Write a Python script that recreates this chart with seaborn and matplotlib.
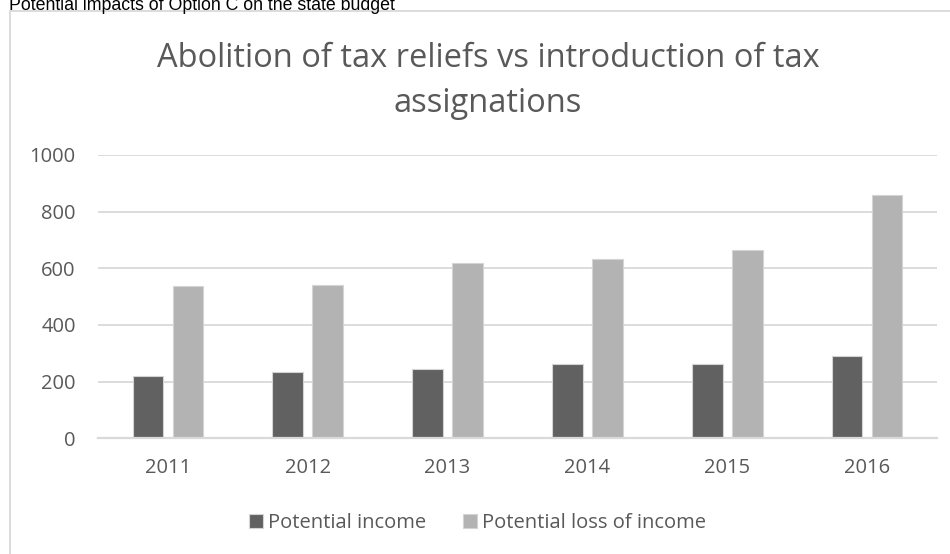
import matplotlib
matplotlib.use('Agg')
import matplotlib.pyplot as plt
import seaborn as sns
import pandas as pd
from matplotlib.patches import Rectangle

years = ['2011', '2012', '2013', '2014', '2015', '2016']
potential_income = [219, 233, 245, 261, 262, 290]
potential_loss = [537, 540, 618, 632, 664, 858]
series_names = ['Potential income', 'Potential loss of income']
title_line1 = 'Abolition of tax reliefs vs introduction of tax'
title_line2 = 'assignations'
header_text = 'Potential impacts of Option C on the state budget'
yticks = [0, 200, 400, 600, 800, 1000]

df = pd.DataFrame({
    'Year': years * 2,
    'Value': potential_income + potential_loss,
    'Series': [series_names[0]] * len(years) + [series_names[1]] * len(years),
})

sns.set_theme(style='white')
plt.rcParams['font.family'] = ['Open Sans', 'DejaVu Sans']

W, H = 950, 554
TXT = '#595959'
GRID = '#d9d9d9'
fig = plt.figure(figsize=(W / 100, H / 100), dpi=100)
fig.patch.set_facecolor('white')

ax = fig.add_axes([98 / W, (H - 438.3) / H, 839 / W, 283.3 / H])
sns.barplot(data=df, x='Year', y='Value', hue='Series', hue_order=series_names,
            palette=['#616161', '#b3b3b3'], saturation=1, width=0.572, gap=0.23,
            edgecolor='#d4d4d4', linewidth=0.8, ax=ax, errorbar=None)

ax.set_ylim(0, 1000)
ax.set_yticks(yticks)
ax.set_xlim(-0.5, len(years) - 0.5)
ax.yaxis.grid(True, color=GRID, linewidth=1.3)
ax.set_axisbelow(True)
for s in ['top', 'right', 'left']:
    ax.spines[s].set_visible(False)
ax.spines['bottom'].set_color(GRID)
ax.spines['bottom'].set_linewidth(1.6)
ax.set_xlabel('')
ax.set_ylabel('')
ax.tick_params(axis='y', length=0, labelsize=14.5, labelcolor=TXT, pad=16)
ax.tick_params(axis='x', length=0, labelsize=14.5, labelcolor=TXT, pad=14.5)

handles, labels = ax.get_legend_handles_labels()
ax.get_legend().remove()
fig.legend(handles, labels, loc='center', bbox_to_anchor=(477.5 / W, (H - 523) / H),
           ncol=2, frameon=False, fontsize=14.5, labelcolor=TXT,
           handlelength=0.7, handleheight=0.7, handletextpad=0.25,
           columnspacing=1.85, borderpad=0, borderaxespad=0)

fig.text(488 / W, (H - 67) / H, title_line1, ha='center', va='baseline',
         fontsize=23.5, color=TXT)
fig.text(488 / W, (H - 112) / H, title_line2, ha='center', va='baseline',
         fontsize=23.5, color=TXT)

fig.text(395 / W, (H - 9.5) / H, header_text, ha='right', va='baseline',
         fontsize=12.8, color='black', family=['Liberation Sans', 'DejaVu Sans'])

fig.patches.append(Rectangle((10 / W, -0.05), 1.1, (H - 11) / H + 0.05,
                             transform=fig.transFigure, fill=False,
                             edgecolor=GRID, linewidth=1.3))

fig.savefig('out.png', dpi=100)
